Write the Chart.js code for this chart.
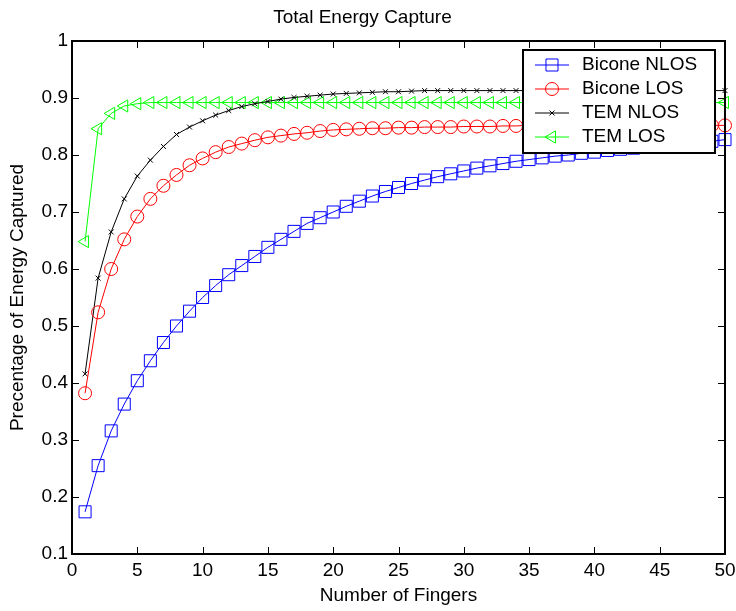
<!DOCTYPE html>
<html>
<head>
<meta charset="utf-8">
<title>Total Energy Capture</title>
<script src="https://cdn.jsdelivr.net/npm/chart.js@4/dist/chart.umd.min.js"></script>
<style>
  html, body { margin: 0; padding: 0; background: #fff; }
  canvas { display: block; }
</style>
</head>
<body>
<canvas id="energy-chart" width="736" height="611"></canvas>
<script>
const fingers = [1, 2, 3, 4, 5, 6, 7, 8, 9, 10, 11, 12, 13, 14, 15, 16, 17, 18, 19, 20,
  21, 22, 23, 24, 25, 26, 27, 28, 29, 30, 31, 32, 33, 34, 35, 36, 37, 38, 39, 40,
  41, 42, 43, 44, 45, 46, 47, 48, 49, 50];

const biconeNlos = [0.174, 0.255, 0.316, 0.363, 0.404, 0.439, 0.471, 0.500, 0.526, 0.550,
  0.571, 0.590, 0.606, 0.622, 0.638, 0.652, 0.666, 0.680, 0.690, 0.700,
  0.710, 0.719, 0.728, 0.736, 0.743, 0.750, 0.756, 0.762, 0.767, 0.772,
  0.777, 0.781, 0.785, 0.789, 0.792, 0.795, 0.798, 0.800, 0.803, 0.805,
  0.808, 0.810, 0.812, 0.814, 0.816, 0.818, 0.820, 0.822, 0.824, 0.827];

const biconeLos = [0.382, 0.524, 0.600, 0.652, 0.692, 0.723, 0.746, 0.765, 0.782, 0.794,
  0.805, 0.814, 0.820, 0.826, 0.831, 0.834, 0.837, 0.839, 0.842, 0.844,
  0.845, 0.846, 0.847, 0.847, 0.848, 0.848, 0.849, 0.849, 0.849, 0.850,
  0.850, 0.850, 0.851, 0.851, 0.852, 0.852, 0.852, 0.852, 0.852, 0.852,
  0.852, 0.852, 0.852, 0.852, 0.852, 0.852, 0.852, 0.852, 0.852, 0.852];

const temNlos = [0.416, 0.584, 0.665, 0.723, 0.763, 0.791, 0.815, 0.836, 0.849, 0.860,
  0.870, 0.878, 0.885, 0.890, 0.894, 0.898, 0.901, 0.903, 0.905, 0.907,
  0.908, 0.909, 0.910, 0.911, 0.911, 0.912, 0.913, 0.913, 0.913, 0.913,
  0.913, 0.913, 0.913, 0.913, 0.913, 0.913, 0.913, 0.913, 0.913, 0.913,
  0.913, 0.913, 0.913, 0.913, 0.913, 0.913, 0.913, 0.913, 0.913, 0.913];

const temLos = [0.648, 0.846, 0.873, 0.886, 0.890, 0.892, 0.892, 0.892, 0.892, 0.892,
  0.892, 0.892, 0.892, 0.892, 0.892, 0.892, 0.892, 0.892, 0.892, 0.892,
  0.892, 0.892, 0.892, 0.892, 0.892, 0.892, 0.892, 0.892, 0.892, 0.892,
  0.892, 0.892, 0.892, 0.892, 0.892, 0.892, 0.892, 0.892, 0.892, 0.892,
  0.892, 0.892, 0.892, 0.892, 0.892, 0.892, 0.892, 0.892, 0.892, 0.892];

const seriesLabels = ['Bicone NLOS', 'Bicone LOS', 'TEM NLOS', 'TEM LOS'];

const FONT = '"Liberation Sans", Arial, Helvetica, sans-serif';

function series(label, values, color, pointStyle, radius, rotation) {
  return {
    label,
    data: values.map((v, i) => ({ x: fingers[i], y: v })),
    borderColor: color,
    backgroundColor: color,
    borderWidth: 1,
    pointStyle,
    pointRadius: radius,
    pointHoverRadius: radius,
    pointRotation: rotation || 0,
    pointBorderColor: color,
    pointBackgroundColor: 'rgba(0,0,0,0)',
    pointBorderWidth: 1,
    tension: 0,
    clip: false,
  };
}

// MATLAB-like frame: box, inward ticks on all four sides, boxed legend
const matlabFrame = {
  id: 'matlabFrame',
  afterDatasetsDraw(chart) {
    const { ctx, chartArea: a, scales: { x, y } } = chart;
    ctx.save();
    ctx.strokeStyle = '#000';
    ctx.lineWidth = 1;
    ctx.beginPath();
    x.ticks.forEach((t) => {
      const px = Math.round(x.getPixelForValue(t.value)) + 0.5;
      ctx.moveTo(px, a.bottom); ctx.lineTo(px, a.bottom - 7);
      ctx.moveTo(px, a.top); ctx.lineTo(px, a.top + 7);
    });
    y.ticks.forEach((t) => {
      const py = Math.round(y.getPixelForValue(t.value)) + 0.5;
      ctx.moveTo(a.left, py); ctx.lineTo(a.left + 7, py);
      ctx.moveTo(a.right, py); ctx.lineTo(a.right - 7, py);
    });
    ctx.stroke();
    ctx.lineWidth = 2;
    ctx.strokeRect(a.left, a.top, a.right - a.left, a.bottom - a.top);

    // legend
    const box = { left: 523, top: 50, width: 192, height: 103 };
    ctx.fillStyle = '#fff';
    ctx.fillRect(box.left, box.top, box.width, box.height);
    ctx.strokeRect(box.left, box.top, box.width, box.height);
    ctx.font = '19px ' + FONT;
    ctx.textBaseline = 'middle';
    ctx.textAlign = 'left';
    chart.data.datasets.forEach((ds, i) => {
      const cy = 64.5 + i * 24;
      ctx.strokeStyle = ds.borderColor;
      ctx.lineWidth = 1;
      ctx.beginPath();
      ctx.moveTo(535, cy + 0.5);
      ctx.lineTo(569, cy + 0.5);
      ctx.stroke();
      ctx.fillStyle = 'rgba(0,0,0,0)';
      Chart.helpers.drawPoint(ctx, {
        pointStyle: ds.pointStyle,
        rotation: ds.pointRotation,
        radius: ds.pointRadius,
        borderWidth: 1,
      }, 552, cy + 0.5);
      ctx.fillStyle = '#000';
      ctx.fillText(ds.label, 582, cy);
    });
    ctx.restore();
  },
};

new Chart(document.getElementById('energy-chart'), {
  type: 'line',
  data: {
    datasets: [
      series(seriesLabels[0], biconeNlos, '#0000ff', 'rect', 8.5),
      series(seriesLabels[1], biconeLos, '#ff0000', 'circle', 6.5),
      series(seriesLabels[2], temNlos, '#000000', 'crossRot', 3.5),
      series(seriesLabels[3], temLos, '#00ff00', 'triangle', 7, -90),
    ],
  },
  options: {
    responsive: false,
    animation: false,
    events: [],
    layout: { padding: { left: 0, right: 11, top: 0, bottom: 0 } },
    plugins: {
      legend: { display: false },
      tooltip: { enabled: false },
      title: {
        display: true,
        text: 'Total Energy Capture',
        color: '#000',
        font: { family: FONT, size: 19, weight: 'normal' },
        padding: { top: 6, bottom: 12.2 },
      },
    },
    scales: {
      x: {
        type: 'linear',
        min: 0,
        max: 50,
        grid: { display: false, drawTicks: false },
        border: { display: false },
        ticks: { stepSize: 5, color: '#000', padding: 5.6, maxRotation: 0, font: { family: FONT, size: 19 } },
        title: { display: true, text: 'Number of Fingers', color: '#000', padding: { top: 2, bottom: 3.6 }, font: { family: FONT, size: 19 } },
        afterFit: (scale) => {
          scale.height = 57;
          scale.paddingLeft = 0;
          scale.paddingRight = 0;
        },
      },
      y: {
        type: 'linear',
        min: 0.1,
        max: 1,
        grid: { display: false, drawTicks: false },
        border: { display: false },
        ticks: {
          stepSize: 0.1,
          color: '#000',
          padding: 4,
          font: { family: FONT, size: 19 },
          callback: (v) => String(Number(v.toFixed(1))),
        },
        title: { display: true, text: 'Precentage of Energy Captured', color: '#000', padding: { top: 6.6, bottom: 0 }, font: { family: FONT, size: 19 } },
        afterFit: (scale) => { scale.width = 72; },
      },
    },
  },
  plugins: [matlabFrame],
});
</script>
</body>
</html>
